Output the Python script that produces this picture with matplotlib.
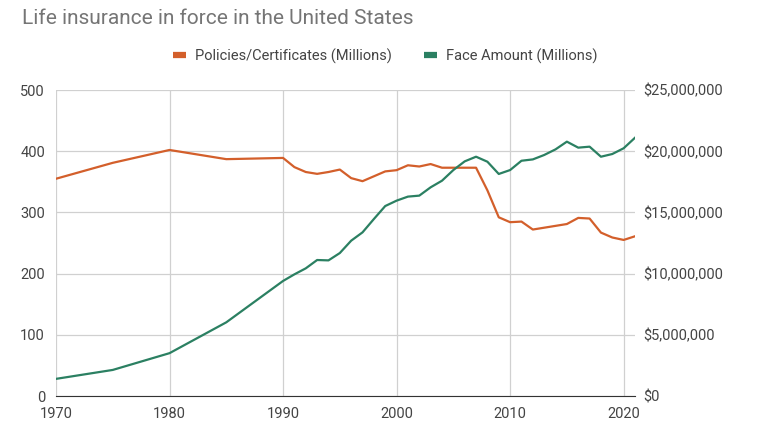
import numpy as np
import matplotlib
matplotlib.use("Agg")
import matplotlib.pyplot as plt
from matplotlib.ticker import FuncFormatter
from matplotlib.lines import Line2D

# ---------------- data ----------------
years = [1970, 1975, 1980, 1985, 1990] + list(range(1991, 2022))
policies = [355, 381, 402, 387, 389,
            374, 366, 363, 366, 370, 356, 351, 359, 367, 369,
            377, 375, 379, 373, 373, 373, 373, 336, 292, 284,
            285, 272, 275, 278, 281, 291, 290, 267, 259, 255, 261]
face = [1.40, 2.13, 3.50, 6.02, 9.40,
        9.94, 10.43, 11.11, 11.08, 11.68, 12.69, 13.37, 14.46, 15.52, 15.96,
        16.29, 16.37, 17.05, 17.59, 18.46, 19.17, 19.55, 19.14, 18.14, 18.46,
        19.22, 19.33, 19.69, 20.15, 20.78, 20.29, 20.37, 19.55, 19.77, 20.24, 21.10]
face = [v * 1e6 for v in face]

title = "Life insurance in force in the United States"
label_pol = "Policies/Certificates (Millions)"
label_face = "Face Amount (Millions)"

orange = "#d35f2b"
green = "#2b8062"
txt = "#444444"

plt.rcParams['font.family'] = ['Roboto', 'DejaVu Sans']

fig = plt.figure(figsize=(7.68, 4.45), dpi=100)
ax = fig.add_axes([56/768, 1-396/445, (635-56)/768, (396-90)/445])
bx = ax.twinx()

ax.plot(years, policies, color=orange, lw=1.6, solid_joinstyle='round')
bx.plot(years, face, color=green, lw=1.6, solid_joinstyle='round')

ax.set_xlim(1970, 2021)
ax.set_ylim(0, 500)
bx.set_ylim(0, 25e6)
ax.set_xticks([1970, 1980, 1990, 2000, 2010, 2020])
ax.set_yticks([0, 100, 200, 300, 400, 500])
bx.set_yticks([0, 5e6, 10e6, 15e6, 20e6, 25e6])
bx.yaxis.set_major_formatter(FuncFormatter(lambda v, p: "${:,.0f}".format(v)))

ax.grid(True, color="#d0d0d0", lw=0.9)
ax.set_axisbelow(True)
for a in (ax, bx):
    for s in ("top", "left", "right"):
        a.spines[s].set_visible(False)
    a.spines["bottom"].set_color("#333333")
    a.tick_params(length=0, labelsize=10.5, labelcolor=txt)
bx.spines["bottom"].set_visible(False)
ax.tick_params(axis='y', pad=8)
bx.tick_params(axis='y', pad=6)
ax.tick_params(axis='x', pad=8)

fig.text(22/768, 1-18/445, title, fontsize=15, color="#757575", va="center", ha="left")

handles = [Line2D([], [], color=orange, lw=4.5, solid_capstyle='butt'),
           Line2D([], [], color=green, lw=4.5, solid_capstyle='butt')]
fig.legend(handles, [label_pol, label_face], loc="center", ncol=2,
           bbox_to_anchor=(385/768, 1-56/445), frameon=False, fontsize=10.5,
           handlelength=0.9, handletextpad=0.6, columnspacing=2.2,
           labelcolor=txt)

fig.savefig("out.png", dpi=100)
